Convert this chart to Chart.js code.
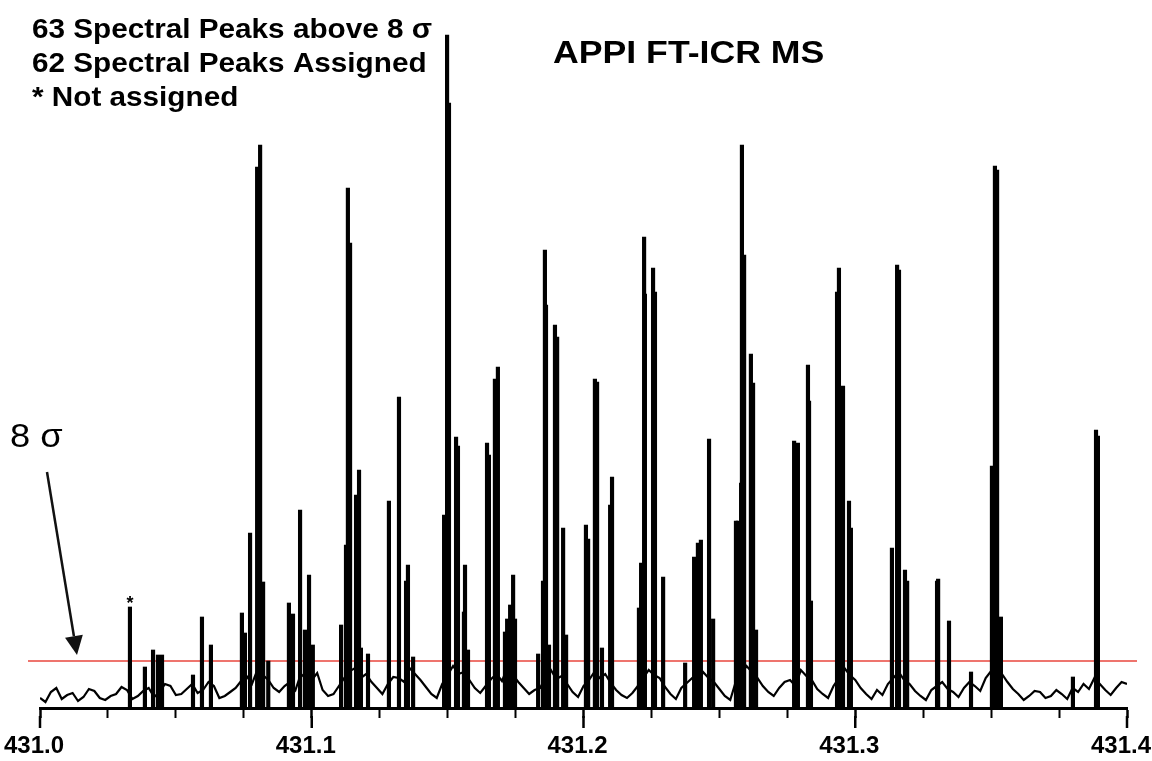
<!DOCTYPE html>
<html>
<head>
<meta charset="utf-8">
<script src="https://cdn.jsdelivr.net/npm/chart.js@4.4.1/dist/chart.umd.min.js"></script>
<style>
  html, body { margin: 0; padding: 0; background: #fff; }
  #wrap { width: 1152px; height: 761px; }
</style>
</head>
<body>
<div id="wrap"><canvas id="spectrum" width="1152" height="761"></canvas></div>
<script>
// m/z range and axis labels
const mzMin = 431.0;
const mzMax = 431.4;
const tickLabels = ['431.0', '431.1', '431.2', '431.3', '431.4'];

// 8 sigma noise threshold (same units as intensities)
const sigma8 = 47;

// the one peak above 8 sigma that was not assigned
const unassignedMz = 431.0331;

// peak centres (m/z) and heights
const peakMz = [
  431.0331, 431.0386, 431.0416, 431.0434, 431.0449, 431.0563, 431.0596, 431.0629,
  431.0743, 431.0754, 431.0773, 431.0799, 431.0810, 431.0821, 431.0840,
  431.0916, 431.0931, 431.0957, 431.0975, 431.0990, 431.1004,
  431.1108, 431.1126, 431.1133, 431.1141, 431.1163, 431.1174, 431.1181, 431.1207,
  431.1284, 431.1321, 431.1347, 431.1354, 431.1373,
  431.1487, 431.1498, 431.1505, 431.1531, 431.1538, 431.1560, 431.1564, 431.1575,
  431.1645, 431.1652, 431.1674, 431.1685, 431.1711, 431.1719, 431.1730, 431.1741, 431.1748,
  431.1833, 431.1851, 431.1858, 431.1862, 431.1873, 431.1895, 431.1903, 431.1925, 431.1936,
  431.2009, 431.2017, 431.2042, 431.2050, 431.2068, 431.2098, 431.2105,
  431.2204, 431.2212, 431.2223, 431.2226, 431.2256, 431.2263, 431.2293,
  431.2374, 431.2407, 431.2421, 431.2432, 431.2462, 431.2477,
  431.2561, 431.2568, 431.2580, 431.2583, 431.2591, 431.2616, 431.2624, 431.2635,
  431.2775, 431.2782, 431.2789, 431.2826, 431.2830, 431.2837,
  431.2933, 431.2940, 431.2955, 431.2977, 431.2984,
  431.3135, 431.3154, 431.3161, 431.3183, 431.3191,
  431.3301, 431.3305, 431.3345, 431.3426,
  431.3503, 431.3514, 431.3522, 431.3536,
  431.3801, 431.3886, 431.3893
];
const peakHeight = [
  101, 41, 58, 53, 53, 33, 91, 63,
  95, 75, 175, 541, 563, 126, 47,
  105, 94, 198, 78, 133, 63,
  83, 163, 520, 465, 213, 238, 60, 54,
  207, 311, 127, 143, 51,
  193, 673, 605, 271, 262, 96, 143, 58,
  265, 253, 329, 341, 76, 89, 103, 133, 89,
  54, 127, 458, 403, 63, 383, 371, 180, 73,
  183, 169, 329, 326, 60, 203, 231,
  100, 145, 471, 414, 440, 416, 131,
  45, 151, 165, 168, 269, 89,
  187, 187, 225, 563, 453, 354, 325, 78,
  267, 243, 265, 343, 307, 107,
  416, 440, 322, 207, 180,
  160, 443, 438, 138, 127,
  127, 129, 87, 36,
  242, 542, 538, 91,
  31, 278, 272
];

// baseline noise, one reading every 0.002 m/z from 431.0
const noiseStep = 0.002;
const noiseLevel = [
  10, 6, 16, 20, 9, 13, 15, 7, 11, 19, 17, 10, 8, 12, 14, 21, 18, 9, 12, 17,
  20, 11, 16, 24, 22, 13, 14, 19, 24, 15, 18, 26, 22, 10, 12, 16, 20, 27, 32, 24,
  38, 33, 28, 20, 16, 22, 26, 18, 34, 29, 28, 35, 18, 12, 14, 22, 30, 37, 40, 30,
  34, 26, 20, 14, 24, 31, 30, 26, 40, 34, 28, 21, 14, 10, 24, 33, 42, 34, 36, 28,
  20, 15, 22, 29, 34, 27, 40, 33, 26, 20, 14, 18, 20, 30, 38, 29, 32, 24, 16, 11,
  22, 28, 36, 30, 34, 25, 18, 13, 10, 15, 22, 30, 38, 33, 30, 21, 14, 9, 20, 25,
  30, 24, 36, 30, 26, 19, 12, 8, 26, 33, 42, 36, 30, 22, 16, 12, 20, 26, 28, 22,
  38, 32, 28, 19, 14, 10, 22, 30, 40, 33, 28, 20, 14, 9, 18, 13, 24, 30, 36, 28,
  24, 17, 12, 8, 18, 22, 26, 19, 16, 11, 20, 26, 22, 17, 30, 37, 42, 34, 26, 19,
  14, 8, 12, 17, 16, 10, 12, 18, 14, 9, 20, 16, 24, 19, 30, 24, 18, 13, 20, 26,
  24
];

const FONT = "'Liberation Sans', Arial, Helvetica, sans-serif";

const peakPoints = peakMz.map((m, i) => ({ x: m, y: peakHeight[i] }));
const noisePoints = noiseLevel.map((v, i) => ({ x: mzMin + i * noiseStep, y: v }));

function isMajor(v) {
  return Math.abs(v * 10 - Math.round(v * 10)) < 1e-6;
}

function stretchText(ctx, text, x, y, font, sx, align) {
  ctx.save();
  ctx.font = font;
  ctx.fillStyle = '#000';
  ctx.textBaseline = 'alphabetic';
  ctx.textAlign = align || 'left';
  ctx.translate(x, y);
  ctx.scale(sx, 1);
  ctx.fillText(text, 0, 0);
  ctx.restore();
}

// red 8 sigma line, drawn under the peaks
const thresholdLine = {
  id: 'thresholdLine',
  beforeDatasetsDraw(chart) {
    const ctx = chart.ctx;
    const y = chart.scales.y.getPixelForValue(sigma8);
    ctx.save();
    ctx.strokeStyle = '#e8463c';
    ctx.lineWidth = 1.6;
    ctx.beginPath();
    ctx.moveTo(chart.chartArea.left - 12, y);
    ctx.lineTo(chart.chartArea.right + 10, y);
    ctx.stroke();
    ctx.restore();
  }
};

// texts, arrow, star and longer major ticks
const annotations = {
  id: 'annotations',
  afterDraw(chart) {
    const ctx = chart.ctx;
    const xs = chart.scales.x;
    const ys = chart.scales.y;
    const bottom = chart.chartArea.bottom;

    // longer ticks at the labelled values
    ctx.save();
    ctx.strokeStyle = '#000';
    ctx.lineWidth = 2.5;
    tickLabels.forEach(t => {
      const x = xs.getPixelForValue(parseFloat(t));
      ctx.beginPath();
      ctx.moveTo(x, bottom + 8);
      ctx.lineTo(x, bottom + 20);
      ctx.stroke();
    });
    ctx.restore();

    stretchText(ctx, '63 Spectral Peaks above 8 \u03c3', 32, 38, 'bold 27px ' + FONT, 1.1);
    stretchText(ctx, '62 Spectral Peaks Assigned', 32, 72, 'bold 27px ' + FONT, 1.1);
    stretchText(ctx, '* Not assigned', 32, 106, 'bold 27px ' + FONT, 1.1);
    stretchText(ctx, 'APPI FT-ICR MS', 553, 63, 'bold 31px ' + FONT, 1.15);
    stretchText(ctx, '8 \u03c3', 10, 447, '33px ' + FONT, 1.1);

    // star over the unassigned peak
    const sx = xs.getPixelForValue(unassignedMz);
    const sy = ys.getPixelForValue(peakHeight[peakMz.indexOf(unassignedMz)]);
    stretchText(ctx, '*', sx, sy + 2, 'bold 18px ' + FONT, 1, 'center');

    // arrow pointing at the threshold
    const tipX = 77, tipY = ys.getPixelForValue(sigma8) - 6;
    const x0 = 47, y0 = 472;
    const dx = tipX - x0, dy = tipY - y0;
    const len = Math.sqrt(dx * dx + dy * dy);
    const ux = dx / len, uy = dy / len;
    const headL = 19, headW = 9;
    ctx.save();
    ctx.strokeStyle = '#111';
    ctx.fillStyle = '#111';
    ctx.lineWidth = 2.5;
    ctx.beginPath();
    ctx.moveTo(x0, y0);
    ctx.lineTo(tipX - ux * headL, tipY - uy * headL);
    ctx.stroke();
    ctx.beginPath();
    ctx.moveTo(tipX, tipY);
    ctx.lineTo(tipX - ux * headL - uy * headW, tipY - uy * headL + ux * headW);
    ctx.lineTo(tipX - ux * headL + uy * headW, tipY - uy * headL - ux * headW);
    ctx.closePath();
    ctx.fill();
    ctx.restore();
  }
};

const ctx = document.getElementById('spectrum').getContext('2d');
const chart = new Chart(ctx, {
  type: 'bar',
  data: {
    datasets: [
      {
        type: 'bar',
        label: 'peaks',
        data: peakPoints,
        backgroundColor: '#000',
        borderWidth: 0,
        barThickness: 3.5,
        grouped: false,
        order: 1
      },
      {
        type: 'line',
        label: 'baseline',
        data: noisePoints,
        borderColor: '#000',
        borderWidth: 2.2,
        pointRadius: 0,
        tension: 0,
        fill: false,
        order: 2
      }
    ]
  },
  options: {
    responsive: false,
    devicePixelRatio: 1,
    animation: false,
    layout: { padding: { left: 40, right: 25, top: 28, bottom: 0 } },
    plugins: {
      legend: { display: false },
      tooltip: { enabled: false }
    },
    scales: {
      x: {
        type: 'linear',
        min: mzMin,
        max: mzMax,
        offset: false,
        afterFit(scale) {
          scale.height = 53;
          scale.paddingLeft = 0;
          scale.paddingRight = 0;
        },
        border: { display: true, color: '#000', width: 3 },
        grid: {
          display: true,
          drawOnChartArea: false,
          drawTicks: true,
          tickLength: 10,
          tickColor: '#000',
          tickWidth: c => (isMajor(c.tick.value) ? 2.5 : 2),
          offset: false
        },
        ticks: {
          stepSize: 0.025,
          autoSkip: false,
          maxRotation: 0,
          padding: 14,
          labelOffset: -6,
          color: '#000',
          font: { family: FONT, size: 24, weight: 'bold' },
          callback: v => {
            if (!isMajor(v)) return '';
            const s = (Math.round(v * 10) / 10).toFixed(1);
            return tickLabels.includes(s) ? s : '';
          }
        }
      },
      y: {
        display: false,
        min: 0,
        max: 680
      }
    }
  },
  plugins: [thresholdLine, annotations]
});
</script>
</body>
</html>
